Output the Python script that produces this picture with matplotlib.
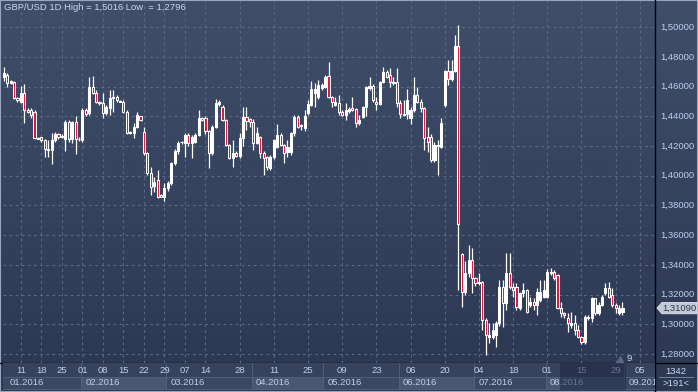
import numpy as np
import matplotlib
matplotlib.use("Agg")
import matplotlib.pyplot as plt
from matplotlib.patches import Rectangle, Polygon
from matplotlib.transforms import blended_transform_factory

# ---------------- data ----------------
opens = [1.4668, 1.4679, 1.4623, 1.4634, 1.4522, 1.4499, 1.4556, 1.4443, 1.4443, 1.4432,
         1.4253, 1.4259, 1.4241, 1.4178, 1.4174, 1.4241, 1.4282, 1.4259, 1.4250, 1.4360,
         1.4245, 1.4360, 1.4248, 1.4241, 1.4443, 1.4420, 1.4596, 1.4560, 1.4499, 1.4488,
         1.4421, 1.4455, 1.4522, 1.4533, 1.4505, 1.4499, 1.4432, 1.4291, 1.4286, 1.4331,
         1.4400, 1.4297, 1.4152, 1.4021, 1.3932, 1.3972, 1.3871, 1.3860, 1.3916, 1.3954,
         1.4084, 1.4165, 1.4225, 1.4219, 1.4275, 1.4219, 1.4230, 1.4275, 1.4387, 1.4387,
         1.4300, 1.4155, 1.4331, 1.4484, 1.4466, 1.4376, 1.4208, 1.4118, 1.4152, 1.4134,
         1.4253, 1.4398, 1.4380, 1.4365, 1.4223, 1.4259, 1.4156, 1.4125, 1.4050, 1.4125,
         1.4197, 1.4275, 1.4208, 1.4163, 1.4163, 1.4286, 1.4398, 1.4336, 1.4320, 1.4420,
         1.4477, 1.4555, 1.4533, 1.4590, 1.4600, 1.4672, 1.4533, 1.4477, 1.4488, 1.4432,
         1.4410, 1.4436, 1.4455, 1.4448, 1.4354, 1.4398, 1.4461, 1.4589, 1.4605, 1.4499,
         1.4484, 1.4634, 1.4701, 1.4679, 1.4622, 1.4634, 1.4488, 1.4407, 1.4414, 1.4387,
         1.4443, 1.4544, 1.4499, 1.4454, 1.4263, 1.4263, 1.4106, 1.4201, 1.4196, 1.4477,
         1.4708, 1.4649, 1.4708, 1.4874, 1.3474, 1.3220, 1.3344, 1.3433, 1.3310, 1.3276,
         1.3287, 1.3029, 1.2917, 1.2917, 1.2928, 1.3007, 1.3254, 1.3141, 1.3344, 1.3254,
         1.3254, 1.3108, 1.3209, 1.3231, 1.3130, 1.3153, 1.3130, 1.3164, 1.3186, 1.3186,
         1.3355, 1.3355, 1.3332, 1.3108, 1.3074, 1.3041, 1.2996, 1.3007, 1.2962, 1.2917,
         1.2879, 1.3041, 1.3041, 1.3175, 1.3074, 1.3130, 1.3209, 1.3242, 1.3198, 1.3130,
         1.3074, 1.3085]
highs = [1.4730, 1.4690, 1.4645, 1.4641, 1.4533, 1.4605, 1.4618, 1.4455, 1.4455, 1.4443,
         1.4258, 1.4262, 1.4245, 1.4241, 1.4286, 1.4297, 1.4290, 1.4280, 1.4376, 1.4376,
         1.4370, 1.4400, 1.4260, 1.4455, 1.4455, 1.4668, 1.4672, 1.4580, 1.4505, 1.4556,
         1.4480, 1.4578, 1.4578, 1.4545, 1.4510, 1.4510, 1.4440, 1.4300, 1.4354, 1.4430,
         1.4405, 1.4330, 1.4160, 1.4062, 1.3990, 1.4039, 1.3875, 1.3950, 1.3965, 1.4090,
         1.4180, 1.4235, 1.4235, 1.4286, 1.4286, 1.4275, 1.4290, 1.4443, 1.4395, 1.4400,
         1.4310, 1.4340, 1.4515, 1.4510, 1.4475, 1.4385, 1.4215, 1.4241, 1.4165, 1.4286,
         1.4466, 1.4466, 1.4390, 1.4380, 1.4331, 1.4270, 1.4165, 1.4135, 1.4140, 1.4250,
         1.4349, 1.4290, 1.4215, 1.4241, 1.4297, 1.4410, 1.4410, 1.4350, 1.4443, 1.4510,
         1.4640, 1.4623, 1.4645, 1.4625, 1.4679, 1.4769, 1.4540, 1.4533, 1.4544, 1.4440,
         1.4488, 1.4460, 1.4533, 1.4455, 1.4410, 1.4470, 1.4605, 1.4663, 1.4615, 1.4533,
         1.4640, 1.4735, 1.4710, 1.4723, 1.4668, 1.4723, 1.4510, 1.4511, 1.4582, 1.4466,
         1.4663, 1.4596, 1.4520, 1.4466, 1.4331, 1.4280, 1.4230, 1.4241, 1.4387, 1.4713,
         1.4780, 1.4780, 1.4948, 1.5016, 1.3478, 1.3429, 1.3534, 1.3512, 1.3320, 1.3344,
         1.3290, 1.3040, 1.3007, 1.3007, 1.3020, 1.3300, 1.3298, 1.3478, 1.3478, 1.3276,
         1.3276, 1.3220, 1.3276, 1.3240, 1.3186, 1.3175, 1.3242, 1.3299, 1.3299, 1.3370,
         1.3380, 1.3366, 1.3340, 1.3153, 1.3080, 1.3074, 1.3085, 1.3063, 1.2996, 1.2920,
         1.3063, 1.3060, 1.3186, 1.3180, 1.3153, 1.3198, 1.3276, 1.3287, 1.3242, 1.3141,
         1.3130, 1.3153]
lows = [1.4640, 1.4600, 1.4618, 1.4515, 1.4499, 1.4488, 1.4353, 1.4420, 1.4387, 1.4250,
        1.4245, 1.4230, 1.4125, 1.4125, 1.4079, 1.4230, 1.4250, 1.4255, 1.4170, 1.4230,
        1.4220, 1.4145, 1.4235, 1.4230, 1.4405, 1.4410, 1.4550, 1.4490, 1.4480, 1.4387,
        1.4410, 1.4410, 1.4430, 1.4500, 1.4495, 1.4420, 1.4280, 1.4280, 1.4253, 1.4320,
        1.4370, 1.4140, 1.4005, 1.3871, 1.3890, 1.3853, 1.3855, 1.3833, 1.3900, 1.3940,
        1.4070, 1.4150, 1.4215, 1.4129, 1.4200, 1.4118, 1.4220, 1.4265, 1.4370, 1.4280,
        1.4052, 1.4140, 1.4320, 1.4470, 1.4370, 1.4200, 1.4110, 1.4062, 1.4125, 1.4118,
        1.4200, 1.4309, 1.4326, 1.4174, 1.4215, 1.4118, 1.4006, 1.4040, 1.4040, 1.4110,
        1.4190, 1.4200, 1.4089, 1.4129, 1.4140, 1.4270, 1.4320, 1.4308, 1.4300, 1.4410,
        1.4470, 1.4466, 1.4520, 1.4580, 1.4590, 1.4525, 1.4466, 1.4470, 1.4410, 1.4400,
        1.4376, 1.4425, 1.4435, 1.4330, 1.4340, 1.4390, 1.4400, 1.4580, 1.4500, 1.4443,
        1.4475, 1.4625, 1.4660, 1.4600, 1.4610, 1.4465, 1.4387, 1.4400, 1.4382, 1.4350,
        1.4430, 1.4490, 1.4430, 1.4174, 1.4163, 1.4095, 1.4095, 1.4005, 1.4185, 1.4460,
        1.4611, 1.4640, 1.4700, 1.3229, 1.3119, 1.3198, 1.3320, 1.3209, 1.3260, 1.3265,
        1.2962, 1.2796, 1.2872, 1.2900, 1.2850, 1.2990, 1.2985, 1.3097, 1.3240, 1.3186,
        1.3097, 1.3097, 1.3186, 1.3075, 1.3119, 1.3097, 1.3063, 1.3150, 1.3175, 1.3175,
        1.3330, 1.3300, 1.3100, 1.3052, 1.3040, 1.2950, 1.2973, 1.2928, 1.2906, 1.2865,
        1.2870, 1.3030, 1.3018, 1.3060, 1.3060, 1.3120, 1.3200, 1.3175, 1.3119, 1.3074,
        1.3063, 1.3063]
closes = [1.4690, 1.4627, 1.4641, 1.4522, 1.4511, 1.4556, 1.4443, 1.4432, 1.4410, 1.4253,
          1.4250, 1.4241, 1.4178, 1.4174, 1.4241, 1.4282, 1.4259, 1.4270, 1.4360, 1.4245,
          1.4360, 1.4248, 1.4245, 1.4443, 1.4416, 1.4600, 1.4560, 1.4499, 1.4488, 1.4421,
          1.4466, 1.4522, 1.4533, 1.4511, 1.4499, 1.4432, 1.4291, 1.4296, 1.4331, 1.4409,
          1.4376, 1.4152, 1.4017, 1.3927, 1.3961, 1.3860, 1.3860, 1.3916, 1.3954, 1.4084,
          1.4165, 1.4219, 1.4230, 1.4275, 1.4219, 1.4264, 1.4275, 1.4390, 1.4376, 1.4300,
          1.4155, 1.4331, 1.4488, 1.4497, 1.4376, 1.4208, 1.4118, 1.4152, 1.4134, 1.4253,
          1.4398, 1.4370, 1.4365, 1.4223, 1.4286, 1.4156, 1.4118, 1.4057, 1.4125, 1.4241,
          1.4275, 1.4208, 1.4152, 1.4197, 1.4286, 1.4398, 1.4331, 1.4342, 1.4403, 1.4484,
          1.4582, 1.4582, 1.4612, 1.4612, 1.4668, 1.4533, 1.4499, 1.4499, 1.4432, 1.4410,
          1.4443, 1.4448, 1.4443, 1.4358, 1.4376, 1.4461, 1.4596, 1.4605, 1.4511, 1.4484,
          1.4634, 1.4701, 1.4667, 1.4634, 1.4634, 1.4488, 1.4414, 1.4418, 1.4510, 1.4443,
          1.4544, 1.4499, 1.4454, 1.4252, 1.4230, 1.4106, 1.4207, 1.4207, 1.4353, 1.4708,
          1.4649, 1.4708, 1.4874, 1.3676, 1.3220, 1.3344, 1.3433, 1.3310, 1.3276, 1.3287,
          1.3029, 1.2928, 1.2928, 1.2962, 1.3007, 1.3254, 1.3141, 1.3344, 1.3254, 1.3231,
          1.3119, 1.3209, 1.3231, 1.3085, 1.3153, 1.3130, 1.3220, 1.3220, 1.3231, 1.3355,
          1.3344, 1.3310, 1.3108, 1.3074, 1.3063, 1.3007, 1.3007, 1.2962, 1.2917, 1.2879,
          1.3052, 1.3052, 1.3175, 1.3074, 1.3130, 1.3186, 1.3242, 1.3186, 1.3130, 1.3108,
          1.3108, 1.3109]

day_tick_bars = [5, 11, 17, 23, 29, 35, 41, 47, 53, 59, 69, 79, 89, 99, 109, 119,
                 129, 139, 149, 159, 169, 179, 186]
day_tick_labels = ["11", "18", "25", "01", "08", "15", "22", "29", "07", "14", "28",
                   "11", "25", "09", "23", "06", "20", "04", "18", "01", "15", "29", "05"]
month_start_bars = [-6, 23, 48, 73, 94, 116, 138, 159, 182]
month_labels = ["01.2016", "02.2016", "03.2016", "04.2016", "05.2016", "06.2016",
                "07.2016", "08.2016", "09.2016"]
price_ticks = [1.28, 1.30, 1.32, 1.34, 1.36, 1.38, 1.40, 1.42, 1.44, 1.46, 1.48, 1.50]
last_price = 1.31090
title_text = "GBP/USD 1D High = 1,5016 Low  = 1,2796"
bars_visible = ">191<"
counter_text = "1342"
marker_text = "9"
selection_bars = [162.7, 182.0]

# ---------------- layout ----------------
W, H = 698, 392
fig = plt.figure(figsize=(W / 100, H / 100), dpi=100)
fig.patch.set_facecolor("#3a4561")
plt.rcParams["font.family"] = ["Liberation Sans", "DejaVu Sans"]

def fx(px):
    return px / W

def fy(py):
    return 1 - py / H

TXT = "#bccfee"

# full background gradient
bg = fig.add_axes([0, 0, 1, 1], zorder=0)
grad = np.linspace(0, 1, 256).reshape(-1, 1)
top_c = np.array([64, 78, 106]) / 255
bot_c = np.array([44, 55, 82]) / 255
img = top_c[None, None, :] * (1 - grad[:, :, None]) + bot_c[None, None, :] * grad[:, :, None]
bg.imshow(img, aspect="auto", extent=[0, 1, 0, 1], origin="upper")
bg.set_xlim(0, 1)
bg.set_ylim(0, 1)
bg.axis("off")

PLOT_L, PLOT_R, PLOT_T, PLOT_B = 3, 655, 1.5, 363
ax = fig.add_axes([fx(PLOT_L), fy(PLOT_B), fx(PLOT_R - PLOT_L), (PLOT_B - PLOT_T) / H], zorder=2)
ax.patch.set_alpha(0)
n = len(closes)
x = np.arange(n)
ax.set_xlim(-0.23, 190.52)
ax.set_ylim(1.27394, 1.51737)
for s in ax.spines.values():
    s.set_visible(False)
ax.set_xticks([])
ax.set_yticks([])

grid_c = "#5b6786"
for p in price_ticks:
    ax.axhline(p, color=grid_c, lw=0.8, ls=(0, (2.5, 3)), zorder=1)
for b in day_tick_bars:
    ax.axvline(b, color=grid_c, lw=0.8, ls=(0, (2.5, 3)), zorder=1)

o = np.array(opens); h = np.array(highs); l = np.array(lows); c = np.array(closes)
ax.vlines(x, l, h, color="white", lw=0.9, zorder=3)
up = c >= o
body_lo = np.minimum(o, c)
body_h = np.maximum(np.abs(c - o), 0.0004)
face = np.where(up, "white", "#e3123c")
ax.bar(x, body_h, bottom=body_lo, width=0.62, color=face, edgecolor="white",
       linewidth=0.75, zorder=4)

# title
fig.text(fx(4), fy(8), title_text, color="#c9d6ec", fontsize=6.8, va="center", ha="left", zorder=5)

# right price labels
tr = blended_transform_factory(fig.transFigure, ax.transData)
for p in price_ticks:
    lab = f"{p:.5f}".replace(".", ",")
    ax.text(fx(660), p, lab, transform=tr, color=TXT, fontsize=6.8,
            va="center", ha="left", clip_on=False)

# last price tag
tag_y = last_price
tx0, tx1 = fx(657), fx(697)
dy = 0.0038
poly = Polygon([[tx0, tag_y], [tx0 + fx(5), tag_y + dy], [tx1, tag_y + dy],
                [tx1, tag_y - dy], [tx0 + fx(5), tag_y - dy]], closed=True,
               transform=tr, facecolor="#c3cad6", edgecolor="#e0e4ec", lw=0.6,
               clip_on=False, zorder=6)
ax.add_patch(poly)
ax.text(fx(662), tag_y, f"{last_price:.5f}".replace(".", ","), transform=tr,
        color="#2a3450", fontsize=6.8, va="center", ha="left", clip_on=False, zorder=7)

# separators
bg.plot([fx(655), fx(655)], [0, 1], color="black", lw=1.0)
bg.plot([0, 1], [fy(363), fy(363)], color="black", lw=1.0)

# bottom date axis
bx = fig.add_axes([fx(PLOT_L), fy(390), fx(PLOT_R - PLOT_L), 27 / H], zorder=1)
bx.set_xlim(ax.get_xlim())
bx.set_ylim(0, 27)
bx.patch.set_facecolor("#37425c")
for s in bx.spines.values():
    s.set_visible(False)
bx.set_xticks([])
bx.set_yticks([])
for k in range(len(month_labels)):
    start = month_start_bars[k] - 0.5
    end = month_start_bars[k + 1] - 0.5 if k + 1 < len(month_start_bars) else 200
    fc = "#4a5672" if k % 2 == 1 else "#3c4762"
    bx.add_patch(Rectangle((start, 1), end - start, 12.5, facecolor=fc,
                           edgecolor="#56627c", lw=0.6, zorder=1))
    bx.plot([start, start], [1, 27], color="#56627c", lw=0.6, zorder=1)
    tx = start + 1.3 if start > 0 else 1.6
    bx.text(tx, 7.2, month_labels[k], color=TXT,
            fontsize=6.8, va="center", ha="left", zorder=3, clip_on=True)
for b, lab in zip(day_tick_bars, day_tick_labels):
    bx.text(b, 19.5, lab, color=TXT, fontsize=6.8, va="center", ha="center", zorder=3)
# darkened selection overlay
bx.add_patch(Rectangle((selection_bars[0], 0), selection_bars[1] - selection_bars[0], 27,
                       facecolor="#1c2640", alpha=0.55, edgecolor="none", zorder=5))

# marker near bottom right of chart
ax.text(182.9, 1.2768, marker_text, color="#c9d6ec", fontsize=6.8, va="center", ha="center")
ax.plot([180.3], [1.2768], marker="^", color="#5b6786", ms=4)

# bottom-right counter box
fig.text(fx(676), fy(371), counter_text, color="#c9d6ec", fontsize=6.8, va="center", ha="center", zorder=5)
bg.plot([fx(659), fx(693)], [fy(377), fy(377)], color="#8090ad", lw=0.6)
fig.text(fx(676), fy(383), bars_visible, color="#c9d6ec", fontsize=6.8, va="center", ha="center", zorder=5)

# outer frame
bg.add_patch(Rectangle((0, 0), 1, 1, fill=False, edgecolor="#9aa6bd", lw=1.5, transform=bg.transAxes))

fig.savefig("out.png", dpi=100, facecolor=fig.get_facecolor())
